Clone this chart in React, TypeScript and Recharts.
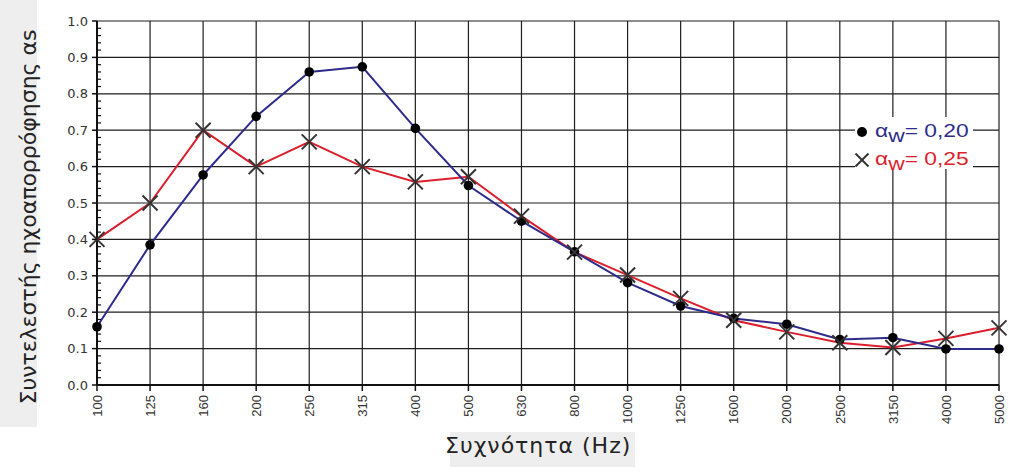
import React from 'react';
import { LineChart, Line, XAxis, YAxis, CartesianGrid } from 'recharts';

const frequencies = ['100', '125', '160', '200', '250', '315', '400', '500', '630', '800', '1000', '1250', '1600', '2000', '2500', '3150', '4000', '5000'];
const alphaW020 = [0.16, 0.385, 0.577, 0.738, 0.86, 0.874, 0.705, 0.548, 0.45, 0.366, 0.281, 0.217, 0.183, 0.167, 0.125, 0.13, 0.099, 0.099];
const alphaW025 = [0.4, 0.5, 0.7, 0.6, 0.668, 0.6, 0.558, 0.572, 0.464, 0.365, 0.302, 0.238, 0.178, 0.146, 0.116, 0.103, 0.128, 0.157];
const majorTicks = [0, 0.1, 0.2, 0.3, 0.4, 0.5, 0.6, 0.7, 0.8, 0.9, 1.0];
const allTicks = Array.from({ length: 51 }, (_, i) => Math.round(i * 2) / 100);

const yTitle = 'Συντελεστής ηχοαπορρόφησης αs';
const xTitle = 'Συχνότητα (Hz)';
const legendLabels = ['0,20', '0,25'];

const data = frequencies.map((f, i) => ({ f, a20: alphaW020[i], a25: alphaW025[i] }));

const BLUE = '#2D2C8A';
const RED = '#DC1F2C';
const W = 1024;
const H = 474;

const isMajor = (v: number) => Math.abs(v * 10 - Math.round(v * 10)) < 1e-6;

const YTick = (props: any) => {
  const { x, y, payload } = props;
  const v = payload.value as number;
  const axisX = x + 9;
  if (isMajor(v)) {
    return (
      <g>
        <line x1={axisX - 5} x2={axisX} y1={y} y2={y} stroke="#111" strokeWidth={1.5} />
        <text x={x} y={y} dy="0.36em" textAnchor="end" fontFamily="DejaVu Sans" fontSize={13} fill="#333">
          {v.toFixed(1)}
        </text>
      </g>
    );
  }
  return <line x1={axisX} x2={axisX + 4} y1={y} y2={y} stroke="#111" strokeWidth={1.2} />;
};

const XTick = (props: any) => {
  const { x, y, payload } = props;
  return (
    <text
      transform={`translate(${x},${y + 2}) rotate(-90)`}
      textAnchor="end"
      dy="0.36em"
      fontFamily="Liberation Sans"
      fontSize={13}
      fill="#333"
    >
      {payload.value}
    </text>
  );
};

const XMark = ({ cx, cy, size = 7.5 }: { cx: number; cy: number; size?: number }) => (
  <g>
    <line x1={cx - size} y1={cy - size} x2={cx + size} y2={cy + size} stroke="#333" strokeWidth={2} />
    <line x1={cx - size} y1={cy + size} x2={cx + size} y2={cy - size} stroke="#333" strokeWidth={2} />
  </g>
);

const gridRows = (p: any) => {
  const s = p?.yAxis?.scale;
  if (typeof s === 'function') return majorTicks.map((v) => s(v));
  if (s && typeof s.map === 'function') return majorTicks.map((v) => s.map(v));
  return majorTicks.map((v) => p.offset.top + p.offset.height * (1 - v));
};

export default function App() {
  return (
    <div style={{ position: 'absolute', left: 0, top: 0, width: W, height: H, background: '#fff', overflow: 'hidden' }}>
      <svg width={W} height={H} style={{ position: 'absolute', left: 0, top: 0, zIndex: 0 }}>
        <rect x={0} y={0} width={37} height={427} fill="#EEEEEE" />
        <rect x={450} y={432} width={185} height={35} fill="#EEEEEE" />
        <text
          transform="translate(36,217) rotate(-90)"
          textAnchor="middle"
          fontFamily="DejaVu Sans"
          fontSize={22}
          fill="#222"
        >
          {yTitle}
        </text>
        <text x={445} y={453} fontFamily="DejaVu Sans" fontSize={22} fill="#222" letterSpacing={1}>
          {xTitle}
        </text>
      </svg>
      <div style={{ position: 'absolute', left: 0, top: 0, zIndex: 1 }}>
        <LineChart width={W} height={H} data={data} margin={{ top: 21, right: 25, bottom: 0, left: 0 }}>
          <CartesianGrid stroke="#1e1e1e" strokeWidth={1.2} horizontalCoordinatesGenerator={gridRows} />
          <XAxis
            dataKey="f"
            interval={0}
            height={89}
            tickSize={6}
            tickMargin={2}
            tick={XTick}
            axisLine={{ stroke: '#111', strokeWidth: 2 }}
            tickLine={{ stroke: '#111', strokeWidth: 1.5 }}
          />
          <YAxis
            type="number"
            domain={[0, 1]}
            ticks={allTicks}
            width={97}
            tickSize={5}
            tickMargin={4}
            tickLine={false}
            tick={YTick}
            interval={0}
            axisLine={{ stroke: '#111', strokeWidth: 2 }}
          />
          <Line dataKey="a25" stroke={RED} strokeWidth={2} dot={false} isAnimationActive={false} />
          <Line dataKey="a20" stroke={BLUE} strokeWidth={2} dot={false} isAnimationActive={false} />
          <Line
            dataKey="a20"
            stroke="none"
            dot={(p: any) => <circle key={`d${p.index}`} cx={p.cx} cy={p.cy} r={4.8} fill="#000" />}
            activeDot={false}
            isAnimationActive={false}
          />
          <Line
            dataKey="a25"
            stroke="none"
            dot={(p: any) => <XMark key={`x${p.index}`} cx={p.cx} cy={p.cy} />}
            activeDot={false}
            isAnimationActive={false}
          />
        </LineChart>
      </div>
      <svg width={W} height={H} style={{ position: 'absolute', left: 0, top: 0, zIndex: 2, pointerEvents: 'none' }}>
        <rect x={855} y={117} width={118} height={52} fill="#fff" />
        <circle cx={862} cy={132} r={5} fill="#000" />
        <XMark cx={862} cy={160} size={6.5} />
        <g transform="translate(875,137) scale(1.2,1)">
          <text x={0} y={0} fontFamily="Liberation Sans" fontSize={19} fill={BLUE}>
            α<tspan dy={5}>w</tspan>
            <tspan dy={-5}>{`= ${legendLabels[0]}`}</tspan>
          </text>
        </g>
        <g transform="translate(875,165) scale(1.2,1)">
          <text x={0} y={0} fontFamily="Liberation Sans" fontSize={19} fill={RED}>
            α<tspan dy={5}>w</tspan>
            <tspan dy={-5}>{`= ${legendLabels[1]}`}</tspan>
          </text>
        </g>
      </svg>
    </div>
  );
}
